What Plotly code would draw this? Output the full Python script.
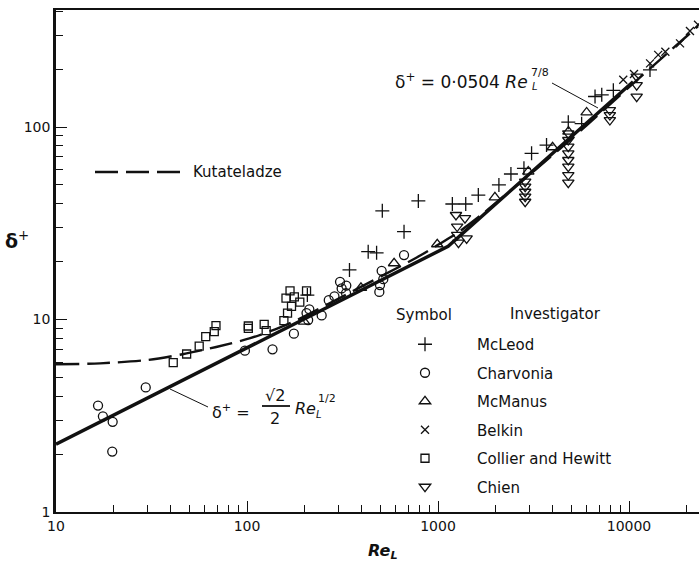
import plotly.graph_objects as go

# ---------------- data ----------------
mcleod_re = [207, 344, 431, 477, 511, 664, 789, 1189, 1397, 1626, 2084, 2409, 2818, 3090,
             3700, 4810, 5650, 6640, 7200, 8280, 12880]
mcleod_d = [13.4, 18.1, 22.5, 22.2, 36.7, 28.6, 41.3, 39.8, 39.8, 44.3, 50, 57, 61, 73,
            80.6, 106, 104, 144, 147, 155, 198]

charv_re = [16.6, 17.6, 19.8, 19.7, 29.5, 97.5, 136, 176, 205, 212, 209, 246, 268, 287,
            307, 313, 330, 331, 493, 497, 507, 517, 664]
charv_d = [3.57, 3.14, 2.94, 2.06, 4.44, 6.89, 7.0, 8.44, 10.8, 11.3, 9.94, 10.5, 12.6, 13.2,
           15.7, 14.5, 13.7, 15.0, 13.9, 15.1, 17.9, 16.2, 21.6]

mcmanus_re = [199, 395, 589, 991, 1986, 2970, 3980, 4820, 6000]
mcmanus_d = [9.74, 14.6, 19.6, 24.6, 43.1, 58.6, 78.5, 94.6, 119]

belkin_re = [9330, 10620, 12890, 14220, 15500, 18500, 20850, 22980]
belkin_d = [176, 188.5, 214, 237, 246, 272, 315, 340]

collier_re = [41.1, 48.3, 56.2, 60.8, 67.4, 68.8, 101.6, 101.6, 123, 126, 156, 163, 160,
              168, 177, 171, 189, 205]
collier_d = [5.97, 6.62, 7.28, 8.14, 8.64, 9.29, 9.0, 9.25, 9.44, 8.75, 9.86, 10.8, 12.9,
             14.1, 13.1, 11.7, 12.3, 14.1]

chien_re = [1242, 1384, 1260, 1260, 1412, 1280,
            2860, 2860, 2860, 2860, 2860,
            4810, 4810, 4810, 4810, 4810, 4810, 4810, 4810,
            7940, 7940, 7940,
            10970, 10970, 10970]
chien_d = [34.9, 33.6, 30.4, 27.5, 26.4, 25.1,
           52, 49, 46.1, 43.5, 40.9,
           92.7, 85.6, 79, 73, 67.4, 62.2, 56.3, 51.4,
           122.5, 115.4, 108.7,
           182.5, 165, 143.8]

# correlation lines
solid_re = [10, 1130, 10500]
solid_d = [2.25, 24.0, 172]

kutat_re = [10, 17, 30, 46, 69, 104, 149, 189, 300, 517, 774, 985, 1253, 1726, 2385,
            4350, 6000, 10500, 23000]
kutat_d = [5.85, 5.92, 6.16, 6.6, 7.2, 8.0, 9.1, 10.1, 12.8, 17.0, 21.0, 24.2, 28.0, 35.6,
           46.5, 77, 102, 168, 334]

x_tick_vals = [10, 100, 1000, 10000]
x_tick_text = ["10", "100", "1000", "10000"]
y_tick_vals = [1, 10, 100]
y_tick_text = ["1", "10", "100"]

# ---------------- layout helpers ----------------
W, H = 699, 564
L, R, T, B = 56, 699, 10, 512          # plot area in pixels
XPD, YPD = 191.0, 192.5                # pixels per decade


def P(px, py):
    return (px - L) / (R - L), (B - py) / (B - T)


FONT = "DejaVu Sans, Liberation Sans, Arial, sans-serif"
BLACK = "#111111"

fig = go.Figure()

fig.add_trace(go.Scatter(x=kutat_re, y=kutat_d, mode="lines",
                         line=dict(color=BLACK, width=2.4, dash="23px,8px", shape="spline",
                                   smoothing=0.8),
                         showlegend=False, hoverinfo="skip"))
fig.add_trace(go.Scatter(x=solid_re, y=solid_d, mode="lines",
                         line=dict(color=BLACK, width=3.4),
                         showlegend=False, hoverinfo="skip"))

series = [
    ("McLeod", mcleod_re, mcleod_d, "cross-thin-open", 10),
    ("Charvonia", charv_re, charv_d, "circle-open", 9),
    ("McManus", mcmanus_re, mcmanus_d, "triangle-up-open", 10),
    ("Belkin", belkin_re, belkin_d, "x-thin-open", 8),
    ("Collier and Hewitt", collier_re, collier_d, "square-open", 8),
    ("Chien", chien_re, chien_d, "triangle-down-open", 10),
]
for i, (name, xs, ys, sym, sz) in enumerate(series):
    fig.add_trace(go.Scatter(x=xs, y=ys, mode="markers", name=name,
                             legendgroup="g%d" % i,
                             marker=dict(symbol=sym, size=sz, color=BLACK,
                                         line=dict(color=BLACK, width=1.3))))

anns = []


def ann(px, py, text, size=15, xanchor="center", yanchor="middle", **kw):
    x, y = P(px, py)
    anns.append(dict(x=x, y=y, xref="paper", yref="paper", text=text, showarrow=False,
                     xanchor=xanchor, yanchor=yanchor,
                     font=dict(family=FONT, size=size, color=BLACK), **kw))


# axis titles
ann(383, 551, "<b><i>Re</i></b><sub><b><i>L</i></b></sub>", size=16)
ann(17, 240, "<b>δ</b><sup>+</sup>", size=19)

# Kutateladze legend
ann(191, 172, "Kutateladze", size=15, xanchor="left")
# investigator legend headers
ann(424, 315, "Symbol", size=15)
ann(508, 314, "Investigator", size=15, xanchor="left")

# 7/8 formula
ann(393, 81, "δ<sup>+</sup> = 0·0504 <i>Re</i>", size=17, xanchor="left")
ann(530, 87, "<i>L</i>", size=10, xanchor="left")
ann(529, 72, "7/8", size=11, xanchor="left")

# sqrt formula
ann(210, 411, "δ<sup>+</sup> =", size=16, xanchor="left")
ann(275, 395, "√2", size=16)
ann(275, 418, "2", size=16)
ann(293, 408, "<i>Re</i>", size=16, xanchor="left")
ann(314, 414, "<i>L</i>", size=10, xanchor="left")
ann(316, 398, "1/2", size=11, xanchor="left")

shapes = []


def seg(p1, p2, width=1.0, dash=None):
    x0, y0 = P(*p1)
    x1, y1 = P(*p2)
    ln = dict(color=BLACK, width=width)
    if dash:
        ln["dash"] = dash
    shapes.append(dict(type="line", xref="paper", yref="paper", x0=x0, y0=y0, x1=x1, y1=y1,
                       line=ln))


seg((95, 172), (182, 172), width=2.4, dash="23px,8px")   # Kutateladze legend sample
seg((552, 83), (598, 108), width=1.0)                     # 7/8 leader
seg((170, 389), (208, 407), width=1.0)                    # 1/2 leader
seg((262, 406), (290, 406), width=1.8)                    # fraction bar

x_minor = [v * m for v in (10, 100, 1000, 10000) for m in range(2, 10)]
y_minor = [v * m for v in (1, 10, 100) for m in range(2, 10)]

fig.update_layout(
    width=W, height=H,
    margin=dict(l=L, r=W - R, t=T, b=H - B, pad=0),
    paper_bgcolor="white", plot_bgcolor="white",
    font=dict(family=FONT, size=14, color=BLACK),
    annotations=anns, shapes=shapes,
    legend=dict(x=P(373, 0)[0], y=P(0, 328)[1], xanchor="left", yanchor="top",
                bgcolor="rgba(0,0,0,0)", borderwidth=0, itemwidth=94,
                tracegroupgap=6, font=dict(family=FONT, size=15, color=BLACK),
                itemclick=False),
    xaxis=dict(type="log", range=[1, 1 + (R - L) / XPD],
               tickvals=x_tick_vals, ticktext=x_tick_text,
               ticks="inside", ticklen=11, tickwidth=1.2, tickcolor=BLACK,
               minor=dict(tickvals=x_minor, ticks="inside", ticklen=7, tickwidth=1.1,
                          tickcolor=BLACK),
               showline=True, linecolor=BLACK, linewidth=2, mirror=True,
               showgrid=False, zeroline=False,
               tickfont=dict(family=FONT, size=14, color=BLACK)),
    yaxis=dict(type="log", range=[0, (B - T) / YPD],
               tickvals=y_tick_vals, ticktext=y_tick_text,
               ticks="inside", ticklen=11, tickwidth=1.2, tickcolor=BLACK,
               minor=dict(tickvals=y_minor, ticks="inside", ticklen=7, tickwidth=1.1,
                          tickcolor=BLACK),
               showline=True, linecolor=BLACK, linewidth=2.5, mirror=False,
               showgrid=False, zeroline=False,
               tickfont=dict(family=FONT, size=14, color=BLACK)),
)

fig.write_html("out.html",
               config={"displayModeBar": False},
               post_script="document.body.style.margin='0';"
                           "document.body.style.overflow='hidden';")
